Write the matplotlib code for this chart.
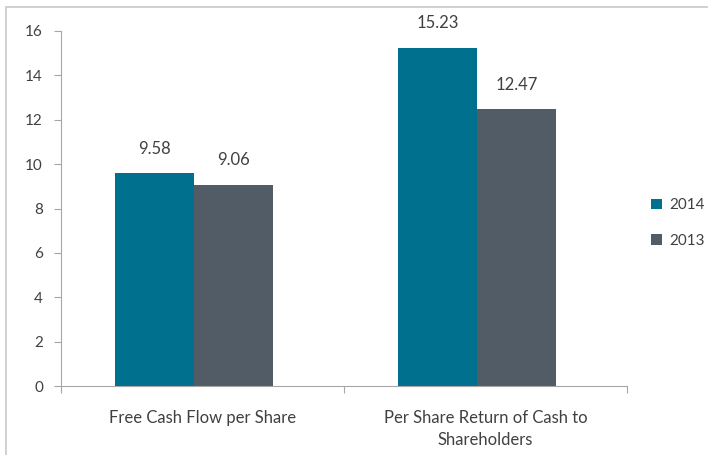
import matplotlib.pyplot as plt
import matplotlib.patches as patches
import numpy as np

# Daten
categories = ["Free Cash Flow per Share", "Per Share Return of Cash to\nShareholders"]
series = ["2014", "2013"]
values_2014 = [9.58, 15.23]
values_2013 = [9.06, 12.47]
colors = ["#00708F", "#515C66"]

plt.rcParams['font.family'] = ['Lato', 'DejaVu Sans']
text_color = "#404040"
axis_color = "#A6A6A6"

fig = plt.figure(figsize=(7.08, 4.55), dpi=100)
ax = fig.add_axes([0.0862, 0.1516, 0.7994, 0.7803])

# Rahmen um das Diagramm
fig.patches.append(patches.Rectangle((0.009, -0.01), 0.995, 0.995, transform=fig.transFigure,
                                     fill=False, edgecolor="#C8C8C8", linewidth=1.2))

x = np.arange(len(categories)) + 0.5
width = 0.279
shift = -0.03

for i, (name, vals) in enumerate(zip(series, [values_2014, values_2013])):
    pos = x + shift + (i - 0.5) * width
    bars = ax.bar(pos, vals, width, color=colors[i], label=name, zorder=2)
    for b, v in zip(bars, vals):
        ax.annotate(f"{v:.2f}", (b.get_x() + b.get_width() / 2, v), xytext=(0, 12),
                    textcoords="offset points", ha="center", va="bottom",
                    fontsize=12, color=text_color)

ax.set_xlim(0, 2)
ax.set_ylim(0, 16)
ax.set_yticks(np.arange(0, 17, 2))
ax.set_xticks([0, 1, 2])
ax.set_xticklabels([])
ax.set_xticks(x, minor=True)
ax.set_xticklabels(categories, minor=True, fontsize=12, color=text_color, linespacing=1.5)
ax.tick_params(axis="x", which="minor", length=0, pad=17)
ax.tick_params(axis="x", which="major", length=5, color=axis_color, direction="out")
ax.tick_params(axis="y", length=5, color=axis_color, labelsize=11, labelcolor=text_color, pad=8)

for s in ["top", "right"]:
    ax.spines[s].set_visible(False)
for s in ["left", "bottom"]:
    ax.spines[s].set_color(axis_color)

fig.legend(loc="center left", bbox_to_anchor=(0.9, 0.51), frameon=False, fontsize=11,
           handlelength=0.7, handleheight=0.7, handletextpad=0.5, labelspacing=1.4,
           labelcolor=text_color)

fig.savefig("out.png", dpi=100)
